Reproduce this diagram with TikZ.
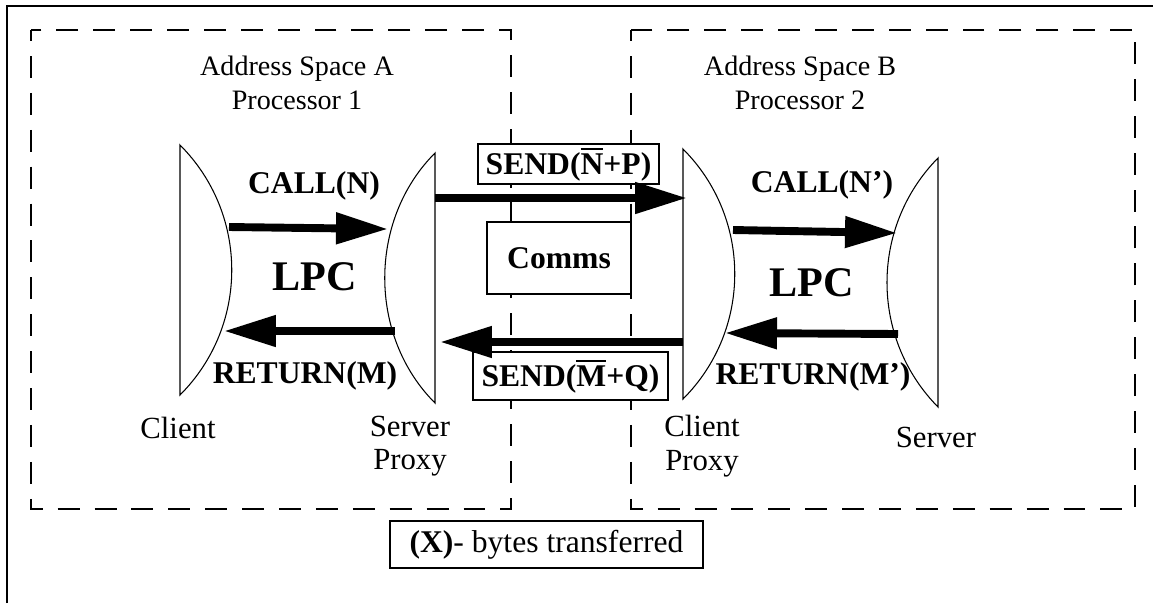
\documentclass[tikz,border=0pt]{standalone}
\usepackage{amsmath}
\usepackage{fontspec}
\setmainfont{Liberation Serif}
\usetikzlibrary{arrows.meta}

\begin{document}
\begin{tikzpicture}[x=0.02cm, y=-0.02cm,
    space/.style={line width=0.75pt, dash pattern=on 12.5pt off 8.5pt, dash phase=6.2pt},
    lens/.style={line width=0.6pt},
    flow/.style={line width=4.5pt, -{Triangle[length=1.04cm, width=0.6cm]}},
    lbl/.style={align=center, inner sep=0pt, font=\fontsize{17.5}{19}\selectfont},
    head/.style={align=center, inner sep=0pt, font=\fontsize{16}{19.3}\selectfont},
    tag/.style={inner sep=0pt, font=\fontsize{18}{21}\selectfont\bfseries},
    big/.style={inner sep=0pt, font=\fontsize{24}{28}\selectfont\bfseries},
    box/.style={draw, fill=white, line width=0.8pt, inner sep=0pt, font=\fontsize{18}{21}\selectfont}]
      \useasboundingbox (0,0) rectangle (1153,603);

      % frame and address spaces
      \draw[line width=1.5pt] (7,603) -- (7,6) -- (1153,6);
      \draw[space] (31,30) rectangle (511,509);
      \draw[space] (631,30) rectangle (1135,509);

      \node[head] (hA) at (297,83) {Address Space A\\Processor 1};
      \node[head] (hB) at (800,83) {Address Space B\\Processor 2};

      % lenses
      \draw[lens] (180,145) .. controls (249,214) and (249,326) .. (180,395) -- cycle;
      \draw[lens] (435,153) .. controls (368,220) and (368,336) .. (435,403) -- cycle;
      \draw[lens] (683,149) .. controls (752,218) and (752,330) .. (683,399) -- cycle;
      \draw[lens] (938,158) .. controls (870,227) and (870,338) .. (938,407) -- cycle;

      \coordinate (cA1) at (229,227);  \coordinate (sA1) at (388,229);
      \coordinate (sA2) at (395,331);  \coordinate (cA2) at (224,331);
      \coordinate (sA3) at (435,198);  \coordinate (cB3) at (687,198);
      \coordinate (cB4) at (683,342);  \coordinate (sA4) at (440,342);
      \coordinate (cB1) at (733,230);  \coordinate (sB1) at (897,233);
      \coordinate (sB2) at (898,334);  \coordinate (cB2) at (725,333);

      % comms boxes
      \node[box, minimum width=3.62cm, minimum height=0.8cm]  (np) at (568.5,164) {\bfseries SEND($\overline{\hbox{N}}$+P)};
      \node[box, minimum width=2.88cm, minimum height=1.44cm] (cm) at (559,258)   {\bfseries Comms};
      \node[box, minimum width=3.9cm,  minimum height=0.96cm] (mq) at (570.5,376) {\bfseries SEND($\overline{\hbox{M}}$+Q)};
      \node[box, minimum width=6.26cm, minimum height=0.94cm] (lg) at (546.5,544.5) {\textbf{(X)}- bytes transferred};

      \draw[flow] (cA1) -- (sA1);
      \draw[flow] (sA2) -- (cA2);
      \draw[flow] (sA3) -- (cB3);
      \draw[flow] (cB4) -- (sA4);
      \draw[flow] (cB1) -- (sB1);
      \draw[flow] (sB2) -- (cB2);

      % labels
      \node[tag] (callA) at (314,186) {CALL(N)};
      \node[big] (lpcA)  at (315,277) {LPC};
      \node[tag] (retA)  at (305,376) {RETURN(M)};
      \node[tag] (callB) at (822,185) {CALL(N')};
      \node[big] (lpcB)  at (812,283) {LPC};
      \node[tag] (retB)  at (813,377) {RETURN(M')};

      \node[lbl] (cl)  at (178,428) {Client};
      \node[lbl] (sp)  at (410,446) {Server\\Proxy};
      \node[lbl] (cp)  at (702,446) {Client\\Proxy};
      \node[lbl] (sv)  at (936,437) {Server};
    \end{tikzpicture}
\end{document}
